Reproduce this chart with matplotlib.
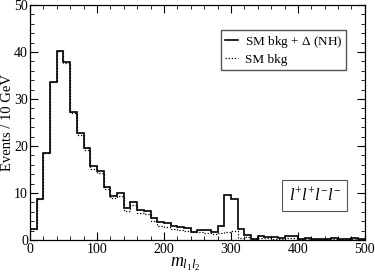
import numpy as np
import matplotlib
matplotlib.use('Agg')
from matplotlib import pyplot as plt
from matplotlib.ticker import MultipleLocator

plt.rcParams['font.family'] = ['Liberation Serif', 'DejaVu Serif']
plt.rcParams['mathtext.fontset'] = 'custom'
plt.rcParams['mathtext.it'] = 'Liberation Serif:italic'
plt.rcParams['mathtext.rm'] = 'Liberation Serif'

# bin edges in GeV (10 GeV bins)
edges = np.arange(0, 510, 10)

# SM bkg + Delta (NH)
sig_bkg = [2.3, 8.7, 18.4, 33.7, 40.3, 37.9, 27.3, 22.8, 19.5, 15.7,
           14.7, 11.3, 9.4, 9.9, 6.7, 8.0, 6.4, 6.2, 4.6, 3.8,
           3.6, 3.0, 2.7, 2.5, 1.8, 2.2, 2.2, 1.8, 3.0, 9.6,
           8.7, 2.3, 1.1, 0.3, 0.9, 0.6, 0.6, 0.4, 0.8, 0.8,
           0.2, 0.4, 0.1, 0.1, 0.3, 0.5, 0.3, 0.3, 0.4, 0.1]

# SM bkg only
bkg = [2.3, 8.7, 18.4, 33.5, 40.2, 37.7, 27.0, 22.4, 19.1, 15.2,
       14.2, 10.8, 9.0, 9.4, 6.2, 7.4, 5.7, 5.5, 4.1, 3.0,
       2.8, 2.3, 2.1, 1.9, 1.6, 1.7, 1.5, 1.3, 1.5, 1.8,
       2.0, 0.5, 0.6, 0.2, 0.5, 0.4, 0.3, 0.3, 0.5, 0.5,
       0.1, 0.3, 0.1, 0.1, 0.2, 0.3, 0.2, 0.2, 0.3, 0.1]

fig = plt.figure(figsize=(3.75, 2.73), dpi=100)
ax = fig.add_axes([0.08, 0.121, 0.893, 0.861])

ax.stairs(bkg, edges, baseline=None, color='black', lw=0.9, ls=(0, (1, 1.5)), label='SM bkg')
ax.stairs(sig_bkg, edges, baseline=None, color='black', lw=1.2, label=r'SM bkg + $\Delta$ (NH)')

ax.set_xlim(0, 500)
ax.set_ylim(0, 50)
ax.xaxis.set_major_locator(MultipleLocator(100))
ax.xaxis.set_minor_locator(MultipleLocator(20))
ax.yaxis.set_major_locator(MultipleLocator(10))
ax.yaxis.set_minor_locator(MultipleLocator(2))
ax.tick_params(which='both', direction='in', top=True, right=True, labelsize=10)
ax.tick_params(axis='y', pad=1.5)
ax.tick_params(axis='x', pad=2)
ax.tick_params(which='major', length=6, width=0.8)
ax.tick_params(which='minor', length=3, width=0.6)
for s in ax.spines.values():
    s.set_linewidth(0.9)

ax.set_ylabel('Events / 10 GeV', fontsize=10.5)
ax.yaxis.set_label_coords(-0.047, 0.5)
ax.set_xlabel(r'$m_{l_1 l_2}$', fontsize=13)
ax.xaxis.set_label_coords(0.465, -0.065)

h, l = ax.get_legend_handles_labels()
ax.legend(h[::-1], l[::-1], loc='upper right', bbox_to_anchor=(0.945, 0.895), fontsize=9.5,
          frameon=True, fancybox=False, edgecolor='#555555', framealpha=1,
          handlelength=1.0, handletextpad=0.5, borderpad=0.3, labelspacing=0.3,
          borderaxespad=0)

ax.text(0.85, 0.19, r'$l^{+}l^{+}l^{-}l^{-}$', transform=ax.transAxes, fontsize=12,
        ha='center', va='center',
        bbox=dict(boxstyle='square,pad=0.4', fc='white', ec='#555555', lw=0.8))

fig.savefig('out.png', dpi=100)
